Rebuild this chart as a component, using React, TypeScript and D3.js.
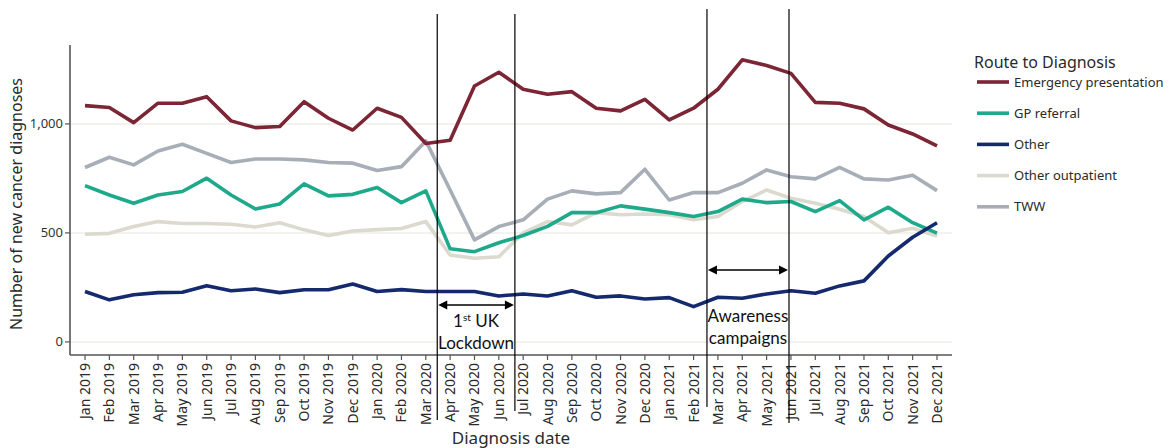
import React from "react";
import * as d3 from "d3";

const months = [
  "Jan 2019","Feb 2019","Mar 2019","Apr 2019","May 2019","Jun 2019","Jul 2019","Aug 2019","Sep 2019","Oct 2019","Nov 2019","Dec 2019",
  "Jan 2020","Feb 2020","Mar 2020","Apr 2020","May 2020","Jun 2020","Jul 2020","Aug 2020","Sep 2020","Oct 2020","Nov 2020","Dec 2020",
  "Jan 2021","Feb 2021","Mar 2021","Apr 2021","May 2021","Jun 2021","Jul 2021","Aug 2021","Sep 2021","Oct 2021","Nov 2021","Dec 2021",
];

const emergency = [1084,1075,1006,1095,1095,1125,1014,983,988,1102,1026,972,1072,1030,910,925,1174,1237,1159,1136,1148,1072,1060,1113,1018,1072,1159,1294,1268,1232,1099,1095,1069,995,954,899];
const gpReferral = [717,674,636,674,690,751,674,610,633,725,670,677,708,639,693,427,414,455,488,530,593,593,624,609,593,575,598,655,639,644,598,648,560,618,547,499];
const other = [231,193,216,226,228,258,235,243,226,239,239,266,231,240,231,231,231,211,220,211,235,205,211,197,203,162,205,200,220,235,223,257,280,394,480,547];
const otherOutpatient = [494,498,529,552,543,543,540,527,547,514,488,509,515,520,552,399,384,391,500,552,537,593,583,587,583,560,575,644,697,659,636,609,575,501,521,486];
const tww = [800,847,812,876,907,865,823,839,839,835,823,820,786,804,922,697,468,529,560,655,693,679,685,792,651,685,685,728,789,758,748,801,748,743,765,694];

const seriesNames = ["Emergency presentation","GP referral","Other","Other outpatient","TWW"];
const seriesValues = [emergency, gpReferral, other, otherOutpatient, tww];
const seriesColors = ["#7c2535","#1fa98b","#15296e","#dcd9cf","#a7aeb7"];
const drawOrder = [3, 4, 1, 2, 0];

const yTicks = [0, 500, 1000];
// annotation boundaries, in fractional month indices
const lockdownSpan = [14.47, 17.66];
const awarenessSpan = [25.55, 28.92];

export default function App() {
  const W = 1176, H = 448;
  const x = d3.scalePoint<string>().domain(months).range([85, 937]);
  const step = x.step();
  const xi = (i: number) => (x(months[0]) as number) + i * step;
  const y = d3.scaleLinear().domain([-60, 1362]).range([355, 45]);
  const axisLeft = 70, axisRight = 952, axisBottom = 355, axisTop = 45;
  const line = d3.line<number>().x((_, i) => x(months[i]) as number).y((d) => y(d));
  const font = "'Noto Sans', 'DejaVu Sans', sans-serif";
  const annFont = "Lato, 'Open Sans', sans-serif";

  const arrow = (x1: number, x2: number, yy: number, key: string) => (
    <g key={key}>
      <line x1={x1 + 6} x2={x2 - 6} y1={yy} y2={yy} stroke="#000" strokeWidth={1.3} />
      <path d={`M${x1 + 1},${yy} L${x1 + 10},${yy - 4.5} L${x1 + 10},${yy + 4.5} Z`} fill="#000" />
      <path d={`M${x2 - 1},${yy} L${x2 - 10},${yy - 4.5} L${x2 - 10},${yy + 4.5} Z`} fill="#000" />
    </g>
  );

  const lx1 = xi(lockdownSpan[0]), lx2 = xi(lockdownSpan[1]);
  const ax1 = xi(awarenessSpan[0]), ax2 = xi(awarenessSpan[1]);

  return (
    <svg width={W} height={H} style={{ position: "absolute", left: 0, top: 0, background: "#fff" }}>
      <rect width={W} height={H} fill="#fff" />
      {yTicks.map((t) => (
        <line key={t} x1={axisLeft} x2={axisRight} y1={y(t)} y2={y(t)} stroke="#eeeeea" strokeWidth={1.5} />
      ))}
      {drawOrder.map((k) => (
        <path key={k} d={line(seriesValues[k]) || ""} fill="none" stroke={seriesColors[k]} strokeWidth={3.6} strokeLinejoin="round" />
      ))}
      {/* axes */}
      <line x1={axisLeft} x2={axisLeft} y1={axisTop} y2={axisBottom} stroke="#555" strokeWidth={1.6} />
      <line x1={axisLeft} x2={axisRight} y1={axisBottom} y2={axisBottom} stroke="#555" strokeWidth={1.6} />
      {yTicks.map((t) => (
        <g key={t}>
          <line x1={axisLeft - 5} x2={axisLeft} y1={y(t)} y2={y(t)} stroke="#555" strokeWidth={1.2} />
          <text x={axisLeft - 7} y={y(t)} dy="0.35em" textAnchor="end" fontFamily={font} fontSize={13} fill="#333">
            {d3.format(",")(t)}
          </text>
        </g>
      ))}
      {months.map((m) => (
        <g key={m}>
          <line x1={x(m)} x2={x(m)} y1={axisBottom} y2={axisBottom + 5} stroke="#555" strokeWidth={1.2} />
          <text transform={`translate(${(x(m) as number) + 5},${axisBottom + 8}) rotate(-90)`} textAnchor="end" fontFamily={font} fontSize={14} fill="#2a2a2a">
            {m}
          </text>
        </g>
      ))}
      <text transform={`translate(22,${(axisTop + axisBottom) / 2 + 4}) rotate(-90)`} textAnchor="middle" fontFamily={font} fontSize={16} fill="#2a2a2a">
        Number of new cancer diagnoses
      </text>
      <text x={511} y={444} textAnchor="middle" fontFamily={font} fontSize={17} fill="#2a2a2a">
        Diagnosis date
      </text>

      {/* annotations */}
      <line x1={lx1} x2={lx1} y1={14} y2={420} stroke="#000" strokeWidth={1.2} />
      <line x1={lx2} x2={lx2} y1={14} y2={411} stroke="#000" strokeWidth={1.2} />
      <line x1={ax1} x2={ax1} y1={9} y2={407} stroke="#000" strokeWidth={1.2} />
      <line x1={ax2} x2={ax2} y1={9} y2={423} stroke="#000" strokeWidth={1.2} />
      {arrow(lx1, lx2, 305, "a1")}
      {arrow(ax1, ax2, 270, "a2")}
      <text x={(lx1 + lx2) / 2} y={327} textAnchor="middle" fontFamily={annFont} fontSize={17} fill="#111">
        1<tspan fontSize={10} dy={-6}>st</tspan><tspan dy={6}> UK</tspan>
      </text>
      <text x={(lx1 + lx2) / 2} y={349} textAnchor="middle" fontFamily={annFont} fontSize={17} fill="#111">
        Lockdown
      </text>
      <text x={(ax1 + ax2) / 2} y={322} textAnchor="middle" fontFamily={annFont} fontSize={17} fill="#111">
        Awareness
      </text>
      <text x={(ax1 + ax2) / 2} y={344} textAnchor="middle" fontFamily={annFont} fontSize={17} fill="#111">
        campaigns
      </text>

      {/* legend */}
      <text x={974} y={68} fontFamily={font} fontSize={16} fill="#2a2a2a">Route to Diagnosis</text>
      {seriesNames.map((n, i) => (
        <g key={n} transform={`translate(977,${82 + i * 31.2})`}>
          <line x1={0} x2={32} y1={0} y2={0} stroke={seriesColors[i]} strokeWidth={3.6} />
          <text x={37} y={0} dy="0.35em" fontFamily={font} fontSize={13} fill="#2a2a2a">{n}</text>
        </g>
      ))}
    </svg>
  );
}
